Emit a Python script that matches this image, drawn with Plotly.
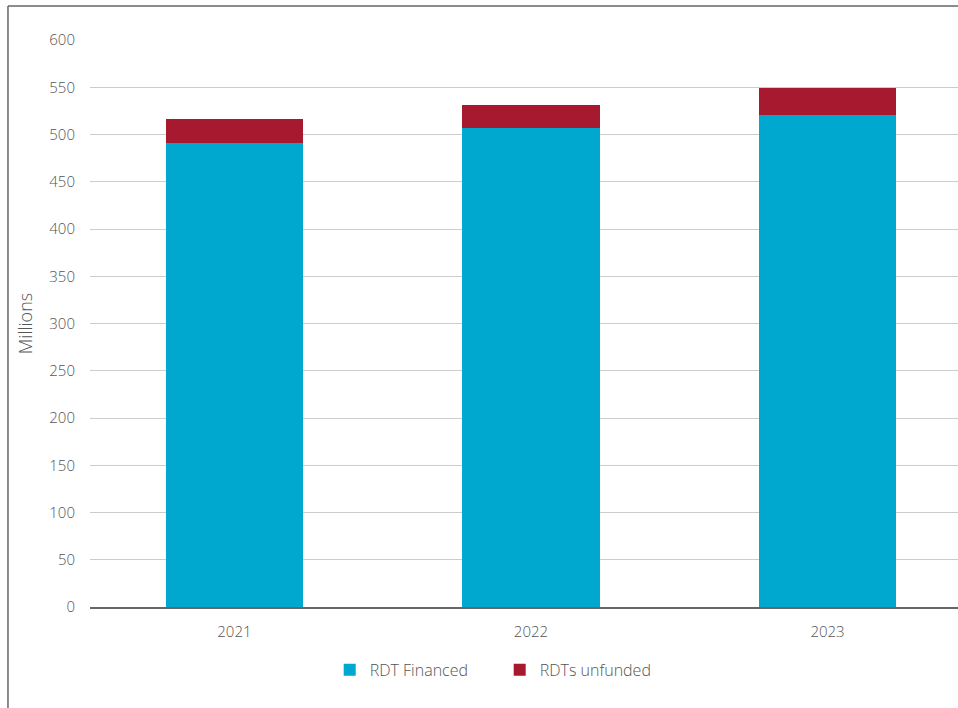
import plotly.graph_objects as go

years = ["2021", "2022", "2023"]
rdt_financed = [491, 507, 520.5]
rdt_unfunded = [25, 24, 29]
y_ticks = [0, 50, 100, 150, 200, 250, 300, 350, 400, 450, 500, 550, 600]

CYAN = "#00A8CF"
RED = "#A6192E"
TEXT = "#555555"
FONT = "Open Sans, Lato, sans-serif"

fig = go.Figure()
fig.add_trace(go.Bar(name="RDT Financed", x=years, y=rdt_financed,
                     marker=dict(color=CYAN, line=dict(width=0)), width=0.464))
fig.add_trace(go.Bar(name="RDTs unfunded", x=years, y=rdt_unfunded,
                     marker=dict(color=RED, line=dict(width=0)), width=0.464))

fig.update_layout(
    barmode="stack",
    width=958, height=708,
    margin=dict(l=90, r=0, t=40, b=101),
    paper_bgcolor="white", plot_bgcolor="white",
    font=dict(family=FONT, color=TEXT, size=15, weight=300),
    showlegend=True,
    legend=dict(orientation="h", x=0.472, xanchor="center", y=-0.111, yanchor="middle",
                font=dict(size=16, color=TEXT, weight=300), itemwidth=30,
                entrywidth=125, traceorder="normal", itemclick=False),
    xaxis=dict(type="category", range=[-0.487, 2.44], showgrid=False,
               showline=True, linecolor="#666666", linewidth=1.5,
               ticks="", ticklabelstandoff=10,
               tickfont=dict(size=15, color=TEXT, weight=300)),
    yaxis=dict(range=[0, 600], tickvals=y_ticks, showgrid=True,
               gridcolor="#cccccc", gridwidth=1, zeroline=False,
               showline=False, ticks="", ticklabelstandoff=14,
               tickfont=dict(size=15, color=TEXT, weight=300),
               title=dict(text="Millions", font=dict(size=18, color=TEXT, weight=300),
                          standoff=12)),
    shapes=[
        dict(type="line", xref="paper", yref="paper", x0=-0.0945, x1=-0.0945,
             y0=1.06, y1=-0.3, line=dict(color="#666666", width=1.5)),
        dict(type="line", xref="paper", yref="paper", x0=-0.0945, x1=1.05,
             y0=1.06, y1=1.06, line=dict(color="#666666", width=1.5)),
    ],
)

fig.write_html("out.html")
